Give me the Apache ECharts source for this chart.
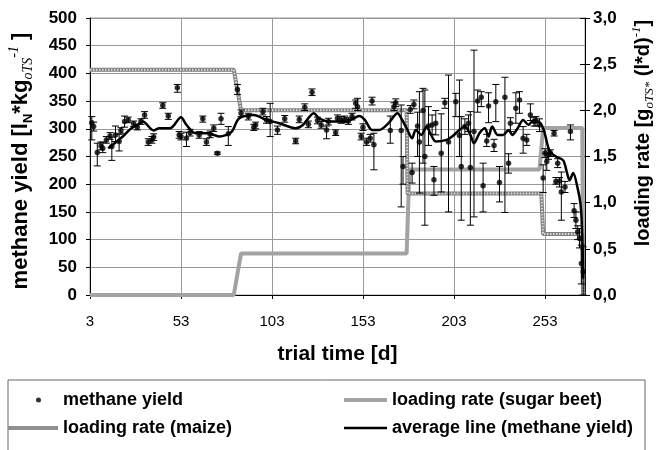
<!DOCTYPE html>
<html>
<head>
<meta charset="utf-8">
<title>methane yield and loading rate</title>
<script src="https://cdn.jsdelivr.net/npm/echarts@6/dist/echarts.min.js"></script>
<style>html,body{margin:0;padding:0;background:#fff;}</style>
</head>
<body>
<div id="main" style="width:660px;height:450px;"></div>
<script>
// trial days start at day 3, the x axis counts from there
var DAY0 = 3;

// methane yield, single measurements with error bars
var yieldDays = [4,5,7,9,10,12,14,15,17,19,
  20,22,24,27,29,31,33,35,37,38,
  43,46,51,52,53,56,58,63,65,67,
  69,71,73,75,79,84,86,90,93,94,
  98,100,102,106,110,116,118,121,123,125,
  128,130,133,134,138,139,141,143,145,147,
  149,150,152,153,155,157,158,159,168,170,
  171,174,175,179,180,181,183,184,186,187,
  189,191,192,193,196,198,200,204,206,207,
  209,211,212,214,216,218,219,221,222,225,
  226,228,231,233,234,237,239,241,243,245,
  247,248,250,252,253,254,255,256,258,259,
  260,261,262,264,267,269,270,271,272,273,
  274];
var yieldMean = [311,304,257,269,265,280,287,268,289,277,
  297,313,316,309,303,313,325,276,280,285,
  342,323,374,289,286,283,293,289,318,276,
  290,301,256,318,291,371,328,322,303,307,
  331,316,313,298,318,278,317,339,308,366,
  315,307,298,313,293,319,316,317,314,322,
  346,340,286,303,276,283,350,271,297,340,
  347,297,232,335,221,344,305,276,333,250,
  305,307,208,310,256,347,276,349,288,232,
  304,310,230,295,350,357,197,278,341,270,
  349,203,357,238,310,337,352,283,280,325,
  313,314,307,211,256,241,253,256,292,205,
  238,206,186,195,295,152,135,114,102,57,
  42];
var yieldLow = [280,296,233,262,257,274,281,243,277,260,
  292,303,311,304,298,308,319,270,274,279,
  337,317,366,283,280,268,287,283,312,270,
  284,295,254,308,270,362,322,316,297,300,
  325,310,286,290,312,273,311,333,302,360,
  309,301,282,307,288,313,310,311,308,316,
  337,333,280,297,270,276,343,226,274,333,
  340,159,200,328,202,336,250,184,238,126,
  270,290,180,289,186,337,150,322,250,135,
  290,295,126,141,330,340,150,268,311,259,
  313,168,149,220,295,310,328,256,270,315,
  305,305,295,185,248,225,245,250,287,200,
  230,195,135,185,280,140,120,100,85,20,
  0];
var yieldHigh = [322,312,274,276,276,286,293,285,305,290,
  302,323,321,314,308,318,331,282,286,291,
  347,328,380,295,292,294,299,295,323,282,
  296,307,258,328,304,380,334,328,308,312,
  337,322,346,305,324,283,323,345,314,372,
  321,313,305,319,298,325,322,323,320,328,
  352,355,292,309,283,290,357,292,323,347,
  354,343,250,342,238,352,330,367,373,370,
  340,325,232,333,327,355,397,364,388,322,
  318,325,331,442,370,367,238,290,365,281,
  380,232,393,255,320,365,367,304,290,345,
  320,322,318,235,264,256,260,262,297,212,
  246,212,222,205,307,165,150,125,120,90,
  87];

// average line (methane yield)
var avgDays = [13,15,21,25,29,32,38,41,47,53,
  56,61,68,71,74,78,81,85,93,100,
  107,116,120,126,129,135,140,146,151,154,
  158,162,167,172,174,177,180,182,185,188,
  190,193,199,202,206,209,212,214,217,220,
  222,224,227,230,233,235,238,241,244,246,
  249,252,255.5,259,263,265,266.5,268.5,271,272.5,
  273.3,274];
var avgVals = [265,270,286,299,307,313,297,301,301,321,
  307,292,292,289,286,289,295,319,325,316,
  310,301,307,328,319,313,313,316,323,316,
  298,298,310,328,319,301,283,298,289,304,
  292,277,280,286,298,304,289,274,292,301,
  286,304,289,289,298,289,301,316,307,313,
  313,301,260,250,243,222,207,220,192,165,
  125,30];

// loading rates [g oTS / (l*d)]
var maizeDays = [3,82,86,177,177.5,251,252,273.5,274];
var maizeRate = [2.44,2.44,2.0,2.0,1.1,1.1,0.66,0.66,0];
var beetDays = [3,82,86,177,178.5,250,252,273.5,274];
var beetRate = [0,0,0.45,0.45,1.36,1.36,1.81,1.81,0];

var font = '"Liberation Sans", Arial, sans-serif';
var serif = '"Liberation Serif", "Times New Roman", serif';

function pairs(xs, ys) {
  return xs.map(function (d, i) { return [d - DAY0, ys[i]]; });
}

var errData = yieldDays.map(function (d, i) { return [d - DAY0, yieldLow[i], yieldHigh[i]]; });

var legendText = { fontSize: 18, fontWeight: 'bold', color: '#000', fontFamily: font };

var chart = echarts.init(document.getElementById('main'));

var option = {
  animation: false,
  backgroundColor: '#fff',
  textStyle: { fontFamily: font, color: '#000' },
  grid: { left: 90, right: 75, top: 18, bottom: 155, show: true, borderColor: '#999', borderWidth: 1 },
  xAxis: {
    type: 'value', min: 0, max: 272, interval: 50,
    axisLine: { onZero: false, lineStyle: { color: '#000', width: 1 } },
    axisTick: { length: 4, lineStyle: { color: '#000' } },
    axisLabel: { fontSize: 15, color: '#000', margin: 19, showMaxLabel: false,
      formatter: function (v) { return String(v + DAY0); } },
    splitLine: { lineStyle: { color: '#999', width: 1 } },
    name: 'trial time [d]', nameLocation: 'middle', nameGap: 49,
    nameTextStyle: { fontSize: 21, fontWeight: 'bold', color: '#000' }
  },
  yAxis: [{
    type: 'value', min: 0, max: 500, interval: 50,
    axisLine: { show: true, lineStyle: { color: '#000' } },
    axisTick: { show: true, length: 4, lineStyle: { color: '#000' } },
    axisLabel: { fontSize: 17, fontWeight: 'bold', color: '#000', margin: 13 },
    splitLine: { lineStyle: { color: '#999', width: 1 } }
  }, {
    type: 'value', min: 0, max: 3, interval: 0.5, position: 'right',
    axisLine: { show: true, lineStyle: { color: '#000' } },
    axisTick: { show: true, length: 5, lineStyle: { color: '#000' } },
    axisLabel: { fontSize: 17, fontWeight: 'bold', color: '#000', margin: 8,
      formatter: function (v) { return v.toFixed(1).replace('.', ','); } },
    splitLine: { show: false }
  }, {
    // inner half of the crossing ticks on the right axis
    type: 'value', min: 0, max: 3, interval: 0.5, position: 'right',
    axisLine: { show: false },
    axisTick: { show: true, inside: true, length: 5, lineStyle: { color: '#000' } },
    axisLabel: { show: false },
    splitLine: { show: false }
  }],
  legend: [
    { data: ['methane yield'], left: 36, top: 391, padding: 0, selectedMode: false,
      icon: 'circle', itemWidth: 5, itemHeight: 5,
      textStyle: Object.assign({ padding: [0, 0, 0, 17] }, legendText) },
    { data: ['loading rate (sugar beet)'], left: 344, top: 391, padding: 0, selectedMode: false,
      icon: 'rect', symbolKeepAspect: false, itemWidth: 43, itemHeight: 4, textStyle: legendText },
    { data: ['loading rate (maize)'], left: 8, top: 419, padding: 0, selectedMode: false,
      icon: 'rect', symbolKeepAspect: false, itemWidth: 50, itemHeight: 4, textStyle: legendText },
    { data: ['average line (methane yield)'], left: 344, top: 419, padding: 0, selectedMode: false,
      icon: 'rect', symbolKeepAspect: false, itemWidth: 43, itemHeight: 2.5, textStyle: legendText }
  ],
  graphic: [
    { type: 'rect', shape: { x: 8, y: 380, width: 637, height: 100 },
      style: { fill: 'none', stroke: '#666', lineWidth: 1 } },
    { type: 'text', x: 21, y: 161, rotation: Math.PI / 2,
      style: {
        text: '{b|methane yield [l}{s|N}{b|*kg}{i|oTS}{p|-1}{b| ]}',
        align: 'center', verticalAlign: 'middle',
        rich: {
          b: { fontSize: 22, fontWeight: 'bold', fontFamily: font, lineHeight: 28 },
          s: { fontSize: 13, fontWeight: 'bold', fontFamily: font, verticalAlign: 'bottom', lineHeight: 17 },
          i: { fontSize: 14, fontStyle: 'italic', fontFamily: serif, verticalAlign: 'bottom', lineHeight: 17 },
          p: { fontSize: 14, fontStyle: 'italic', fontFamily: serif, verticalAlign: 'top', lineHeight: 15 }
        }
      } },
    { type: 'text', x: 643, y: 133, rotation: Math.PI / 2,
      style: {
        text: '{b|loading rate [g}{i|oTS*}{b| (l*d)}{p|-1}{b|]}',
        align: 'center', verticalAlign: 'middle',
        rich: {
          b: { fontSize: 20, fontWeight: 'bold', fontFamily: font, lineHeight: 26 },
          i: { fontSize: 13, fontStyle: 'italic', fontFamily: serif, verticalAlign: 'bottom', lineHeight: 16 },
          p: { fontSize: 13, fontStyle: 'italic', fontFamily: serif, verticalAlign: 'top', lineHeight: 14 }
        }
      } }
  ],
  series: [
    { name: 'loading rate (sugar beet)', type: 'line', yAxisIndex: 1, data: pairs(beetDays, beetRate),
      symbol: 'none', lineStyle: { color: '#a3a3a3', width: 4 }, itemStyle: { color: '#a3a3a3' }, z: 2 },
    { name: 'loading rate (maize)', type: 'line', yAxisIndex: 1, data: pairs(maizeDays, maizeRate),
      symbol: 'none', lineStyle: { color: '#7f7f7f', width: 4 }, itemStyle: { color: '#8f8f8f' }, z: 2 },
    { name: 'maize pattern', type: 'line', yAxisIndex: 1, data: pairs(maizeDays, maizeRate),
      symbol: 'none', lineStyle: { color: '#dedede', width: 2, type: [1.5, 1.5] }, z: 3, silent: true },
    { name: 'error bars', type: 'custom', data: errData, z: 4,
      renderItem: function (params, api) {
        var top = api.coord([api.value(0), api.value(2)]);
        var bot = api.coord([api.value(0), api.value(1)]);
        var w = 3.5;
        var st = { stroke: '#000', lineWidth: 1 };
        return { type: 'group', children: [
          { type: 'line', shape: { x1: top[0], y1: top[1], x2: bot[0], y2: bot[1] }, style: st },
          { type: 'line', shape: { x1: top[0] - w, y1: top[1], x2: top[0] + w, y2: top[1] }, style: st },
          { type: 'line', shape: { x1: bot[0] - w, y1: bot[1], x2: bot[0] + w, y2: bot[1] }, style: st }
        ] };
      } },
    { name: 'methane yield', type: 'scatter', data: pairs(yieldDays, yieldMean),
      symbol: 'circle', symbolSize: 5.5, itemStyle: { color: '#000' }, z: 5 },
    { name: 'average line (methane yield)', type: 'line', data: pairs(avgDays, avgVals),
      symbol: 'none', smooth: 0.3, lineStyle: { color: '#000', width: 2.5 }, itemStyle: { color: '#000' }, z: 6 }
  ]
};

chart.setOption(option);
</script>
</body>
</html>
